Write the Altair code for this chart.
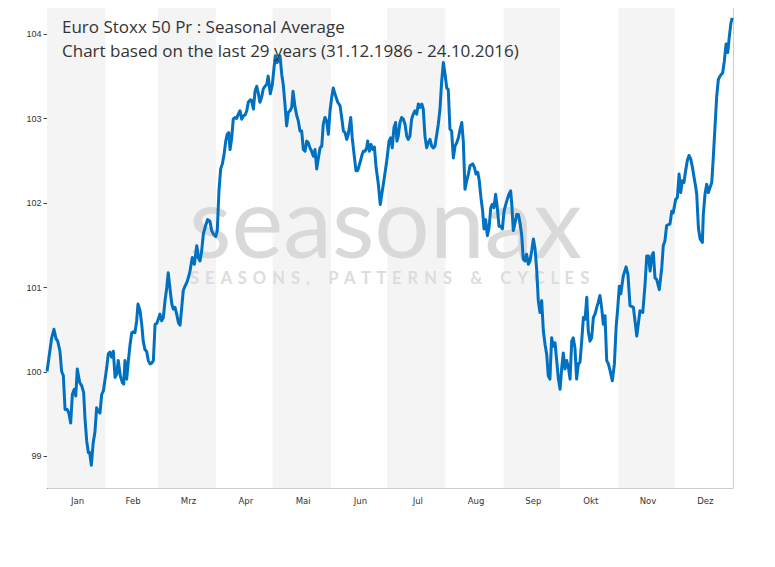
import altair as alt
import pandas as pd

# day offset from 1 January (non-leap year) and seasonal index value
days = [0, 2.5, 3.7, 4.8, 5.7, 6.9, 7.8, 8.7, 9.6, 10.8, 11.7, 12.6, 13.5, 14.5, 15.3, 16.1, 17.4, 18.5, 19.5, 20.2,
        21.1, 22.0, 22.7, 23.6, 24.6, 25.5, 26.4, 27.3, 28.2, 29.1, 30.0, 30.9, 31.8, 32.6, 33.5, 34.4, 35.3, 36.2, 37.1, 37.9,
        39.0, 40.1, 40.8, 41.5, 42.4, 43.3, 44.2, 45.1, 45.9, 46.8, 47.7, 48.4, 49.5, 50.4, 51.2, 52.1, 53.0, 53.9, 54.8, 55.7,
        56.6, 57.5, 58.4, 59.2, 60.1, 61.0, 61.9, 62.8, 63.7, 64.5, 65.4, 66.4, 67.2, 68.1, 69.0, 69.9, 70.8, 71.7, 72.5, 73.4,
        74.3, 75.2, 76.1, 77.3, 78.4, 79.7, 80.5, 81.4, 82.3, 83.2, 84.4, 85.5, 86.7, 87.6, 88.5, 89.8, 90.6, 91.5, 92.4, 93.3,
        94.2, 95.1, 95.9, 96.7, 97.4, 98.3, 99.1, 100.0, 100.9, 101.8, 102.7, 103.6, 104.5, 105.4, 106.3, 107.1, 108.2, 108.9, 109.8, 110.7,
        111.6, 112.4, 113.3, 114.2, 115.1, 116.0, 116.9, 117.7, 118.8, 119.9, 120.8, 121.5, 122.4, 123.1, 124.0, 124.9, 125.7, 126.6, 127.5, 128.4,
        129.3, 130.2, 130.9, 132.0, 132.9, 133.7, 134.6, 135.5, 136.4, 137.3, 138.2, 139.0, 139.9, 140.8, 141.7, 142.6, 143.5, 144.4, 145.3, 146.2,
        147.0, 147.9, 148.8, 149.7, 150.6, 151.5, 152.3, 153.2, 154.7, 155.9, 156.8, 157.7, 158.6, 159.5, 160.3, 161.6, 162.4, 163.3, 164.4, 165.3,
        166.5, 167.4, 168.3, 169.2, 170.1, 170.6, 171.5, 172.4, 173.3, 174.2, 175.1, 176.3, 177.3, 178.4, 179.5, 180.8, 182.0, 182.9, 183.7, 184.6,
        185.5, 186.2, 186.9, 187.8, 188.7, 189.6, 190.5, 191.4, 192.2, 193.1, 194.0, 194.9, 195.8, 196.7, 197.6, 198.5, 199.4, 200.2, 201.1, 202.0,
        202.9, 203.8, 204.7, 205.6, 206.4, 207.4, 208.2, 209.1, 210.0, 210.9, 211.8, 212.7, 213.5, 214.4, 215.3, 216.2, 217.1, 218.0, 218.9, 219.8,
        220.7, 221.5, 222.4, 223.3, 224.2, 225.1, 226.5, 227.4, 228.3, 229.2, 230.0, 230.9, 231.8, 232.5, 233.4, 234.3, 235.2, 236.1, 236.9, 237.8,
        238.7, 239.6, 240.5, 241.4, 242.3, 243.2, 244.1, 244.9, 245.8, 246.7, 247.3, 248.1, 249.0, 249.9, 250.8, 251.7, 252.6, 253.4, 254.3, 255.2,
        256.1, 257.0, 257.9, 258.8, 259.7, 260.6, 261.4, 262.3, 263.2, 264.1, 265.0, 265.9, 266.7, 267.6, 268.5, 269.4, 270.3, 271.2, 272.1, 273.0,
        273.9, 274.7, 275.6, 276.5, 277.4, 278.3, 279.2, 280.0, 280.9, 281.8, 282.7, 283.6, 284.5, 285.4, 286.3, 287.2, 288.0, 288.9, 289.8, 290.7,
        291.6, 292.5, 293.3, 294.2, 295.1, 296.0, 296.9, 297.8, 298.7, 299.6, 300.8, 301.9, 302.8, 303.7, 304.5, 305.3, 306.6, 308.1, 309.1, 310.2,
        312.0, 313.8, 314.6, 315.5, 317.0, 318.2, 319.1, 320.0, 320.9, 321.8, 322.6, 323.5, 324.4, 325.8, 327.1, 327.9, 328.8, 329.7, 331.5, 332.4,
        333.2, 334.5, 335.4, 336.3, 337.2, 338.0, 338.9, 339.8, 340.7, 341.6, 342.5, 343.4, 344.3, 345.2, 345.7, 346.6, 347.5, 348.7, 349.2, 350.1,
        351.0, 351.9, 352.8, 353.7, 354.5, 355.4, 356.3, 357.2, 358.1, 359.5, 360.4, 361.3, 362.2, 363.0, 363.9, 364.6]

values = [100.00, 100.40, 100.50, 100.39, 100.36, 100.24, 100.00, 99.95, 99.55, 99.55, 99.50, 99.39, 99.73, 99.79, 99.71, 100.03, 99.87, 99.83, 99.75, 99.45,
          99.18, 99.04, 99.04, 98.89, 99.16, 99.28, 99.57, 99.53, 99.51, 99.73, 99.77, 99.91, 100.05, 100.21, 100.23, 100.17, 100.24, 99.93, 99.97, 100.13,
          99.95, 99.87, 99.85, 100.13, 99.91, 100.13, 100.32, 100.46, 100.47, 100.46, 100.60, 100.80, 100.72, 100.56, 100.36, 100.26, 100.24, 100.13, 100.09, 100.10,
          100.13, 100.56, 100.57, 100.62, 100.68, 100.60, 100.64, 100.84, 100.99, 101.17, 100.99, 100.80, 100.74, 100.76, 100.68, 100.58, 100.55, 100.76, 100.96, 101.01,
          101.05, 101.11, 101.19, 101.35, 101.27, 101.49, 101.35, 101.31, 101.43, 101.63, 101.73, 101.80, 101.78, 101.67, 101.63, 101.60, 101.67, 102.14, 102.40, 102.46,
          102.57, 102.73, 102.81, 102.83, 102.63, 102.77, 102.99, 103.01, 103.00, 103.05, 103.09, 102.99, 103.03, 103.04, 103.09, 103.19, 103.22, 103.21, 103.11, 103.32,
          103.38, 103.30, 103.19, 103.25, 103.35, 103.38, 103.40, 103.50, 103.29, 103.40, 103.60, 103.74, 103.66, 103.68, 103.74, 103.52, 103.40, 103.17, 102.91, 103.07,
          103.09, 103.13, 103.32, 103.13, 103.03, 102.97, 102.85, 102.85, 102.63, 102.61, 102.73, 102.71, 102.65, 102.61, 102.55, 102.63, 102.40, 102.53, 102.65, 102.67,
          102.93, 103.01, 102.97, 102.81, 103.09, 103.25, 103.36, 103.29, 103.19, 103.15, 103.01, 102.85, 102.83, 102.75, 102.81, 103.01, 102.77, 102.59, 102.38, 102.38,
          102.47, 102.55, 102.61, 102.61, 102.65, 102.73, 102.61, 102.69, 102.63, 102.66, 102.42, 102.22, 101.98, 102.14, 102.30, 102.50, 102.73, 102.77, 102.65, 102.89,
          102.95, 102.73, 102.79, 102.95, 103.01, 102.99, 102.93, 102.79, 102.75, 102.79, 102.99, 103.05, 103.09, 103.05, 103.17, 103.13, 103.17, 103.11, 102.79, 102.65,
          102.71, 102.75, 102.67, 102.65, 102.67, 102.81, 102.93, 103.11, 103.44, 103.66, 103.52, 103.36, 103.34, 102.87, 102.85, 102.53, 102.67, 102.71, 102.77, 102.87,
          102.95, 102.73, 102.16, 102.26, 102.34, 102.44, 102.46, 102.42, 102.34, 102.36, 102.26, 102.06, 101.90, 101.69, 101.80, 101.61, 101.70, 101.94, 101.98, 101.94,
          102.10, 101.94, 101.72, 101.72, 101.69, 101.90, 101.98, 102.04, 102.10, 102.14, 101.98, 101.67, 101.76, 101.86, 101.86, 101.76, 101.61, 101.33, 101.31, 101.39,
          101.27, 101.31, 101.43, 101.57, 101.45, 101.19, 100.84, 100.70, 100.84, 100.48, 100.32, 100.20, 99.95, 99.91, 100.40, 100.30, 100.34, 100.13, 99.91, 99.79,
          100.05, 100.22, 100.03, 100.13, 100.05, 99.91, 100.36, 100.40, 100.28, 99.91, 100.09, 100.11, 100.36, 100.64, 100.62, 100.88, 100.48, 100.36, 100.40, 100.64,
          100.68, 100.76, 100.82, 100.90, 100.76, 100.56, 100.66, 100.13, 100.09, 100.01, 99.89, 100.09, 100.52, 100.76, 101.01, 100.92, 101.13, 101.24, 101.15, 100.78,
          100.76, 100.42, 100.56, 100.72, 100.70, 101.03, 101.37, 101.37, 101.19, 101.37, 101.41, 101.11, 101.09, 100.97, 101.23, 101.49, 101.55, 101.73, 101.75, 101.90,
          101.88, 102.04, 102.06, 102.34, 102.12, 102.26, 102.24, 102.38, 102.50, 102.56, 102.52, 102.42, 102.30, 102.18, 102.10, 101.70, 101.57, 101.53, 101.86, 102.10,
          102.22, 102.12, 102.18, 102.24, 102.53, 102.89, 103.25, 103.46, 103.50, 103.54, 103.68, 103.88, 103.78, 103.96, 104.13, 104.19]

month_labels = ["Jan", "Feb", "Mrz", "Apr", "Mai", "Jun", "Jul", "Aug", "Sep", "Okt", "Nov", "Dez"]
y_ticks = [99, 100, 101, 102, 103, 104]
title_lines = ["Euro Stoxx 50 Pr : Seasonal Average",
               "Chart based on the last 29 years (31.12.1986 - 24.10.2016)"]
watermark_main = "seasonax"
watermark_words = ["SEASONS,", "PATTERNS", "&", "CYCLES"]

# letter-spaced watermark subtitle (non-collapsing spaces)
gap = "\u00a0\u200a\u200a"
watermark_sub = (gap * 3).join(gap.join(word) for word in watermark_words)

W, H = 686, 487
base = pd.Timestamp("2015-01-01")

line_df = pd.DataFrame({
    "date": base + pd.to_timedelta(days, unit="D"),
    "value": values,
})

starts = pd.date_range("2015-01-01", periods=13, freq="MS")
months_df = pd.DataFrame({
    "start": starts[:-1],
    "end": starts[1:],
    "mid": starts[:-1] + (starts[1:] - starts[:-1]) / 2,
    "label": month_labels,
    "shade": [i % 2 == 0 for i in range(12)],
})
bands_df = months_df[months_df["shade"]]

x_scale = alt.Scale(domain=[alt.DateTime(year=2015, month=1, date=1),
                            alt.DateTime(year=2016, month=1, date=1)])
y_scale = alt.Scale(domain=[98.62, 104.39], nice=False, zero=False)

bands = alt.Chart(bands_df).mark_rect(color="#f4f4f4").encode(
    x=alt.X("start:T", scale=x_scale, axis=None),
    x2="end:T",
    y=alt.value(0),
    y2=alt.value(H),
)

wm1 = alt.Chart(pd.DataFrame({"t": [watermark_main]})).mark_text(
    font="Lato", fontSize=98, color="#d9d9d9", align="left", baseline="alphabetic"
).encode(x=alt.value(142), y=alt.value(257), text="t:N")

wm2 = alt.Chart(pd.DataFrame({"t": [watermark_sub]})).mark_text(
    font="Lato", fontSize=16.5, fontWeight="bold", color="#dcdcdc", align="left", baseline="alphabetic"
).encode(x=alt.value(143), y=alt.value(282.5), text="t:N")

line = alt.Chart(line_df).mark_line(color="#0070c0", strokeWidth=3, strokeJoin="round").encode(
    x=alt.X("date:T", scale=x_scale,
            axis=alt.Axis(values=[alt.DateTime(year=2015, month=m, date=1) for m in range(1, 13)],
                          labels=False, tickSize=5, tickColor="#444", domainColor="#555",
                          domainWidth=1.5, grid=False, title=None)),
    y=alt.Y("value:Q", scale=y_scale,
            axis=alt.Axis(values=y_ticks, format="d", tickSize=4, tickColor="#444",
                          domainColor="#555", labelFontSize=9, labelColor="#333",
                          labelFont="Liberation Sans", labelPadding=2, grid=False, title=None)),
)

mlabels = alt.Chart(months_df).mark_text(
    fontSize=9.5, color="#333", font="Liberation Sans Narrow, DejaVu Sans Condensed, sans-serif",
    baseline="middle", align="center", dx=1.5
).encode(x=alt.X("mid:T", scale=x_scale, axis=None), y=alt.value(H + 13), text="label:N")

t1 = alt.Chart(pd.DataFrame({"t": [title_lines[0]]})).mark_text(
    font="Open Sans", fontSize=17, color="#333", align="left", baseline="alphabetic"
).encode(x=alt.value(15), y=alt.value(32.3), text="t:N")

t2 = alt.Chart(pd.DataFrame({"t": [title_lines[1]]})).mark_text(
    font="Open Sans", fontSize=17, color="#333", align="left", baseline="alphabetic"
).encode(x=alt.value(15), y=alt.value(55.7), text="t:N")

chart = alt.layer(bands, wm1, wm2, line, mlabels, t1, t2).properties(
    width=W, height=H,
    autosize=alt.AutoSizeParams(type="none"),
    padding={"left": 39, "top": -7, "right": 34, "bottom": 60},
).configure_view(stroke="#cccccc", strokeWidth=1)

chart.save("out.html", embed_options={"renderer": "svg", "actions": False})
